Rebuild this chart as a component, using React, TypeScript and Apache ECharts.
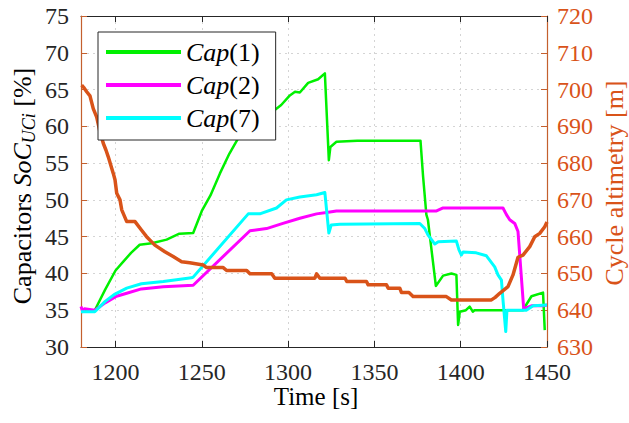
import React, { useEffect, useRef } from "react";
import * as echarts from "echarts";

// Time axis tick positions [s]
const timeTicks = [1200, 1250, 1300, 1350, 1400, 1450];

// State of charge of capacitor 1 [%] as [time, SoC]
const cap1: [number, number][] = [
  [1180, 35.0], [1188, 35.0], [1194, 37.8], [1200, 40.4], [1204.5, 41.6], [1209, 42.8],
  [1214, 43.9], [1221, 44.1], [1229.6, 44.6], [1237, 45.4], [1245, 45.5], [1250, 48.5],
  [1255, 50.6], [1260.5, 53.6], [1266, 56.3], [1274, 59.6], [1277, 61.0], [1290, 61.8],
  [1296, 62.9], [1301, 64.2], [1304, 64.7], [1306.8, 64.6], [1311.6, 65.9], [1317.4, 66.4],
  [1321.3, 67.2], [1323.6, 55.4], [1324.5, 57.2], [1328, 57.9], [1340, 58.05], [1376.7, 58.05],
  [1378.2, 53.2], [1380.1, 48.0], [1381, 47.3], [1385.6, 38.3], [1389.8, 39.7], [1394.6, 40.0],
  [1397.5, 39.8], [1398.5, 33.0], [1399.5, 34.8], [1403, 35.0], [1405.2, 35.5], [1407, 34.8],
  [1408, 35.0], [1436, 35.0], [1441, 36.9], [1447.7, 37.4], [1448.7, 32.3],
];

// State of charge of capacitor 2 [%]
const cap2: [number, number][] = [
  [1180, 35.5], [1181, 34.8], [1182, 35.2], [1188, 35.0], [1194, 36.0], [1200.6, 36.9],
  [1206.5, 37.3], [1215, 37.9], [1227.7, 38.2], [1245, 38.4], [1277.9, 45.8], [1287.5, 46.1],
  [1297, 46.8], [1306.8, 47.5], [1316.5, 48.1], [1322.3, 48.3], [1328, 48.5], [1386, 48.5],
  [1389.8, 48.9], [1424.5, 48.9], [1426.5, 48.0], [1428.4, 47.3], [1431.3, 46.8],
  [1433.2, 45.7], [1436.5, 35.2], [1441, 35.6], [1447.7, 35.6], [1450, 35.7],
];

// State of charge of capacitor 7 [%]
const cap7: [number, number][] = [
  [1180, 34.8], [1188, 34.8], [1194, 36.2], [1199.7, 37.2], [1206.5, 38.0], [1215, 38.6],
  [1227.7, 38.9], [1244, 39.4], [1245, 39.5], [1276.9, 48.1], [1283.6, 48.1], [1293.3, 48.9],
  [1299, 50.0], [1306.8, 50.4], [1316.5, 50.7], [1321.3, 51.0], [1323.6, 45.5], [1325, 46.6],
  [1330, 46.7], [1376.3, 46.8], [1379.2, 46.1], [1381.1, 45.2], [1383.1, 44.6], [1385, 44.0],
  [1387, 44.3], [1397.5, 44.4], [1399, 43.2], [1400.4, 42.5], [1401.4, 42.9], [1409, 42.8],
  [1414.9, 42.4], [1419.7, 40.9], [1421.6, 39.8], [1423.6, 39.1], [1424.5, 36.4],
  [1426.1, 32.1], [1426.8, 35.0], [1438, 35.0], [1442, 35.6], [1450, 35.7],
];

// Cycle altimetry [m]
const altimetry: [number, number][] = [
  [1180.4, 701.2], [1181.5, 700.6], [1183.3, 699.4], [1185.2, 698.3], [1187.1, 694.8],
  [1189.1, 692.5], [1191, 688.5], [1192.9, 685.4], [1194.5, 683.5], [1195.8, 681.7],
  [1198.7, 677.2], [1199.7, 675.5], [1200.7, 671.8], [1202.6, 670.0], [1203.6, 667.3],
  [1206.5, 664.1], [1211.3, 664.1], [1215, 661.8], [1218, 660.0], [1222.8, 657.7],
  [1228.6, 655.9], [1233.4, 654.6], [1238.3, 653.2], [1243, 652.9], [1250.8, 652.3],
  [1252.8, 651.6], [1262.4, 651.6], [1264.4, 650.8], [1276, 650.8], [1277.9, 649.9],
  [1290.5, 649.9], [1292.3, 648.7], [1315.5, 648.7], [1316.5, 649.9], [1318.4, 648.7],
  [1333, 648.7], [1334, 647.8], [1345.4, 647.8], [1346.4, 646.9], [1357, 646.9],
  [1358, 646.0], [1364.7, 646.0], [1365.7, 644.8], [1370, 644.8], [1372.4, 643.7],
  [1391.7, 643.7], [1394.6, 642.8], [1417.8, 642.8], [1420, 643.5], [1422.6, 644.6],
  [1427.4, 646.4], [1430.3, 649.6], [1433.2, 654.4], [1436.1, 655.0], [1440, 657.3],
  [1442.9, 660.0], [1445.8, 660.9], [1448.7, 662.7], [1450, 664.0],
];

const capNames = ["Cap(1)", "Cap(2)", "Cap(7)"];

const SERIF = "Liberation Serif";
const INK = "#262626";
const ORANGE = "#d95319";
const SPINE_ORANGE = "#c4602e";
const GRID_DOTS = "#d4d4d4";

export default function App() {
  const ref = useRef<HTMLDivElement>(null);

  useEffect(() => {
    if (!ref.current) return;
    const chart = echarts.init(ref.current, undefined, { renderer: "svg" });

    const lineSeries = (name: string, data: [number, number][], color: string, width: number, yIdx: number, z: number) => ({
      type: "line",
      name,
      data,
      xAxisIndex: 0,
      yAxisIndex: yIdx,
      symbol: "none",
      showSymbol: false,
      z,
      lineStyle: { color, width, join: "round" },
      itemStyle: { color },
    });

    const plain = (v: number) => String(v);

    chart.setOption({
      animation: false,
      backgroundColor: "#ffffff",
      textStyle: { fontFamily: SERIF },
      grid: { left: 81, top: 16, width: 466, height: 331, containLabel: false },
      legend: {
        data: capNames,
        orient: "vertical",
        left: 98,
        top: 32,
        padding: [7, 16, 9, 8],
        itemGap: 7,
        itemWidth: 75,
        itemHeight: 4,
        icon: "rect",
        backgroundColor: "#ffffff",
        borderColor: INK,
        borderWidth: 1,
        formatter: (name: string) => `{i|Cap}{n|${name.slice(3)}}`,
        textStyle: {
          fontFamily: SERIF,
          fontSize: 26,
          color: "#000",
          rich: {
            i: { fontFamily: SERIF, fontSize: 26, fontStyle: "italic", color: "#000", lineHeight: 24 },
            n: { fontFamily: SERIF, fontSize: 26, color: "#000", lineHeight: 24 },
          },
        },
      },
      xAxis: [
        {
          type: "value",
          position: "bottom",
          min: 1180,
          max: 1450,
          axisLine: { show: true, onZero: false, lineStyle: { color: INK, width: 1 } },
          axisTick: { show: true, inside: true, length: 6, customValues: timeTicks, lineStyle: { color: INK } },
          axisLabel: { customValues: timeTicks, formatter: plain, fontFamily: SERIF, fontSize: 24, color: INK, margin: 13 },
          splitLine: { show: true, lineStyle: { color: GRID_DOTS, type: [2, 4], width: 1 } },
        },
        {
          type: "value",
          position: "top",
          min: 1180,
          max: 1450,
          axisLine: { show: true, onZero: false, lineStyle: { color: INK, width: 1 } },
          axisTick: { show: true, inside: true, length: 6, customValues: timeTicks, lineStyle: { color: INK } },
          axisLabel: { show: false },
          splitLine: { show: false },
        },
      ],
      yAxis: [
        {
          type: "value",
          position: "left",
          min: 30,
          max: 75,
          interval: 5,
          axisLine: { show: true, onZero: false, lineStyle: { color: SPINE_ORANGE, width: 1.2 } },
          axisTick: { show: true, inside: true, length: 6, lineStyle: { color: SPINE_ORANGE } },
          axisLabel: { formatter: plain, fontFamily: SERIF, fontSize: 24, color: INK, margin: 12 },
          splitLine: { show: true, lineStyle: { color: GRID_DOTS, type: [2, 4], width: 1 } },
        },
        {
          type: "value",
          position: "right",
          min: 630,
          max: 720,
          interval: 10,
          axisLine: { show: true, onZero: false, lineStyle: { color: SPINE_ORANGE, width: 1.2 } },
          axisTick: { show: true, inside: true, length: 6, lineStyle: { color: SPINE_ORANGE } },
          axisLabel: { formatter: plain, fontFamily: SERIF, fontSize: 24, color: ORANGE, margin: 10 },
          splitLine: { show: false },
        },
      ],
      graphic: [
        {
          type: "text",
          x: 22,
          y: 186,
          rotation: Math.PI / 2,
          style: {
            text: "{n|Capacitors }{i|SoC}{s|UCi}{n| [%]}",
            align: "center",
            verticalAlign: "middle",
            fill: "#000",
            fontFamily: SERIF,
            fontSize: 26,
            rich: {
              n: { fontFamily: SERIF, fontSize: 26, fill: "#000", lineHeight: 32 },
              i: { fontFamily: SERIF, fontSize: 26, fontStyle: "italic", fill: "#000", lineHeight: 32 },
              s: { fontFamily: SERIF, fontSize: 18, fontStyle: "italic", fill: "#000", lineHeight: 17, verticalAlign: "bottom" },
            },
          },
        },
        {
          type: "text",
          x: 614,
          y: 183,
          rotation: Math.PI / 2,
          style: {
            text: "Cycle altimetry [m]",
            align: "center",
            verticalAlign: "middle",
            fontFamily: SERIF,
            fontSize: 26,
            fill: ORANGE,
          },
        },
        {
          type: "text",
          x: 316,
          y: 396,
          style: {
            text: "Time [s]",
            align: "center",
            verticalAlign: "middle",
            fontFamily: SERIF,
            fontSize: 25,
            fill: "#000",
          },
        },
      ],
      series: [
        lineSeries(capNames[0], cap1, "#00f000", 2.5, 0, 2),
        lineSeries(capNames[1], cap2, "#ff00ff", 3, 0, 2),
        lineSeries(capNames[2], cap7, "#00ffff", 3, 0, 2),
        lineSeries("Cycle altimetry", altimetry, ORANGE, 3.5, 1, 3),
      ],
    });

    return () => chart.dispose();
  }, []);

  return (
    <div
      ref={ref}
      style={{ position: "fixed", left: 0, top: 0, width: 629, height: 423 }}
    />
  );
}
